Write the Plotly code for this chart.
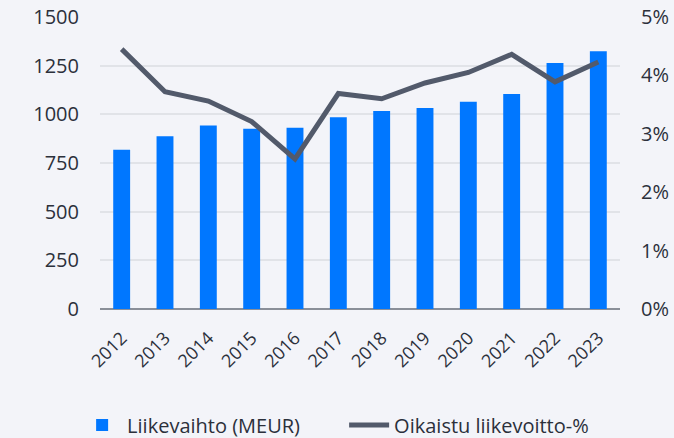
import plotly.graph_objects as go

years = ["2012", "2013", "2014", "2015", "2016", "2017", "2018", "2019", "2020", "2021", "2022", "2023"]
revenue = [818, 887, 943, 926, 931, 985, 1017, 1033, 1065, 1105, 1264, 1324]
margin_pct = [4.45, 3.72, 3.56, 3.21, 2.57, 3.69, 3.60, 3.87, 4.05, 4.36, 3.89, 4.23]

left_ticks = [0, 250, 500, 750, 1000, 1250, 1500]
right_ticks = [0, 1, 2, 3, 4, 5]

FONT = "Open Sans, sans-serif"
TXT = "#2b303b"

fig = go.Figure()
fig.add_trace(go.Bar(x=years, y=revenue, name="Liikevaihto (MEUR)",
                     marker=dict(color="#0077ff", line=dict(width=0)), width=0.39))
fig.add_trace(go.Scatter(x=years, y=margin_pct, name="Oikaistu liikevoitto-%", yaxis="y2",
                         mode="lines", line=dict(color="#525a6b", width=5)))

fig.update_layout(
    width=674, height=438,
    margin=dict(l=100, r=54, t=17, b=129, autoexpand=False),
    paper_bgcolor="#f3f4f9", plot_bgcolor="#f3f4f9",
    font=dict(family=FONT, size=20, color=TXT),
    showlegend=True,
    legend=dict(orientation="h", x=-0.044, xanchor="left", y=-0.397,
                yanchor="middle", font=dict(size=20, color=TXT), bgcolor="rgba(0,0,0,0)",
                traceorder="normal", itemwidth=40, entrywidth=212, entrywidthmode="pixels"),
    xaxis=dict(type="category", tickangle=-45, tickfont=dict(size=18, color=TXT),
               showgrid=False, showline=False, ticks="", range=[-0.5, 11.5], automargin=False,
               ticklabelstandoff=14),
    yaxis=dict(range=[0, 1500], tickvals=left_ticks, showgrid=True, gridcolor="#e1e3e8",
               gridwidth=1.5, zeroline=True, zerolinecolor="#8a8f99", zerolinewidth=2,
               ticks="", ticklabelstandoff=20, automargin=False),
    yaxis2=dict(range=[0, 5], tickvals=right_ticks, ticktext=[f"{v}%" for v in right_ticks],
                overlaying="y", side="right", showgrid=False, zeroline=False, ticks="",
                ticklabelstandoff=20, automargin=False),
)

fig.write_html("out.html", config={"displayModeBar": False},
               post_script="document.body.style.margin='0';document.body.style.overflow='hidden';")
